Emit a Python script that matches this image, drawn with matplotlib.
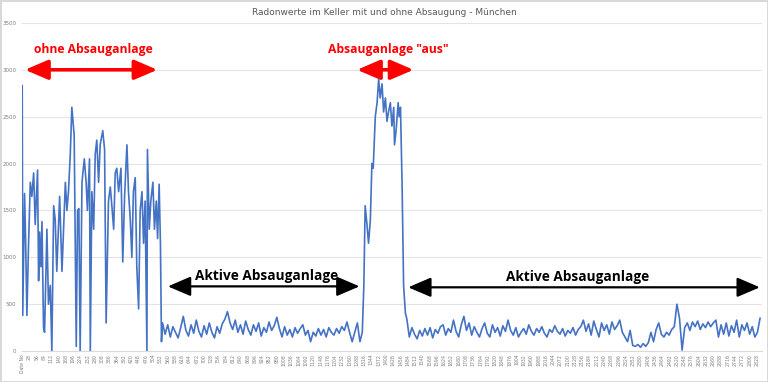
import numpy as np
import matplotlib.pyplot as plt
from matplotlib.patches import FancyArrowPatch

# Phase 1: ohne Absauganlage (Tag, Radon Bq/m3)
tage_ohne = [0, 2, 9, 13, 18, 24, 31, 37, 44, 50, 59, 63, 67, 72, 76, 82, 86, 95, 101, 108,
             114, 121, 127, 133, 144, 153, 166, 172, 178, 185, 191, 200, 208, 213, 218, 223,
             230, 239, 246, 251, 259, 262, 268, 275, 281, 287, 294, 300, 310, 317, 323, 332,
             339, 345, 352, 358, 364, 371, 380, 387, 394, 403, 409, 416, 422, 428, 435, 441,
             448, 454, 461, 467, 473, 480, 482, 489, 495, 503, 509, 516, 521, 527, 532, 536]
werte_ohne = [2830, 380, 1680, 1200, 380, 1100, 1800, 1650, 1900, 1350, 1930, 750, 1270, 900,
              1380, 250, 200, 1300, 500, 700, 0, 1550, 1400, 850, 1650, 850, 1800, 1500, 1700,
              2100, 2600, 2300, 50, 1500, 1520, 0, 1800, 2050, 1800, 1500, 2050, 0, 1700, 1300,
              2100, 2250, 1800, 2200, 2350, 2150, 300, 1600, 1750, 1550, 1300, 1900, 1950, 1700,
              1950, 950, 1650, 2200, 1700, 1400, 1000, 1700, 1850, 900, 450, 1500, 1700, 1150,
              1600, 0, 2150, 1300, 1600, 1800, 1300, 1600, 1200, 1780, 1150, 100]

# Phase 2: aktive Absauganlage, alle 10 Tage ab Tag 540
start_aktiv1 = 540
werte_aktiv1 = [300, 180, 280, 150, 260, 200, 140, 250, 370, 220, 160, 280, 190, 330, 210, 150,
                270, 180, 300, 200, 140, 260, 190, 290, 340, 420, 300, 230, 330, 200, 280, 180,
                320, 230, 170, 280, 210, 300, 160, 250, 200, 310, 220, 270, 360, 240, 150, 260,
                170, 230, 150, 250, 190, 240, 280, 170, 220, 100, 200, 160, 240, 170, 230, 150,
                250, 200, 170, 240, 190, 260, 220, 310, 200, 100, 200, 300, 100]

# Phase 3: Absauganlage "aus"
tage_aus = [1309, 1315, 1320, 1327, 1333, 1340, 1346, 1351, 1359, 1366, 1372, 1378, 1385, 1391,
            1398, 1404, 1410, 1417, 1423, 1430, 1433, 1439, 1447, 1451, 1456, 1462, 1468, 1475]
werte_aus = [200, 700, 1550, 1350, 1150, 1400, 2000, 1950, 2500, 2650, 2900, 2700, 2850, 2550,
             2700, 2450, 2550, 2650, 2400, 2600, 2200, 2350, 2650, 2500, 2600, 1800, 700, 400]

# Phase 4: aktive Absauganlage, alle 10 Tage ab Tag 1480
start_aktiv2 = 1480
werte_aktiv2 = [350, 150, 250, 180, 130, 220, 160, 240, 170, 250, 140, 230, 190, 260, 280, 170,
                240, 200, 330, 210, 150, 280, 370, 220, 300, 170, 260, 200, 150, 240, 300, 190,
                150, 280, 200, 250, 160, 270, 210, 330, 220, 170, 250, 150, 200, 240, 180, 280,
                210, 170, 240, 200, 260, 190, 150, 230, 200, 270, 210, 180, 240, 160, 220, 190,
                250, 170, 230, 260, 330, 210, 290, 170, 320, 230, 150, 300, 220, 280, 180, 310,
                230, 270, 330, 200, 150, 100, 220, 60, 50, 70, 40, 80, 50, 90, 200, 100, 230,
                300, 180, 150, 200, 170, 230, 260, 500, 350, 10, 250, 300, 220, 310, 260, 320,
                230, 290, 250, 310, 260, 300, 330, 150, 280, 180, 300, 160, 270, 200, 330, 150,
                280, 220, 300, 180, 260, 150, 200, 350]

tage = (tage_ohne
        + list(range(start_aktiv1, start_aktiv1 + 10 * len(werte_aktiv1), 10))
        + tage_aus
        + list(range(start_aktiv2, start_aktiv2 + 10 * len(werte_aktiv2), 10)))
werte = werte_ohne + werte_aktiv1 + werte_aus + werte_aktiv2

tick_pos = list(range(0, 2829, 28))
tick_lab = ['Date No'] + [str(t) for t in tick_pos[1:]]

fig = plt.figure(figsize=(7.68, 3.82), dpi=100)
fig.patch.set_edgecolor('#d9d9d9')
fig.patch.set_linewidth(1)
ax = fig.add_axes([0.0286, 0.081, 0.9634, 0.859])

ax.plot(tage, werte, color='#4472C4', lw=1.2)
ax.set_xlim(-1, 2847)
ax.set_ylim(0, 3500)
ax.set_yticks(range(0, 3501, 500))
ax.set_xticks(tick_pos)
ax.set_xticklabels(tick_lab, rotation=90, fontsize=3.3, color='#7f7f7f')
ax.tick_params(axis='y', labelsize=4, colors='#7f7f7f', length=0, pad=4)
ax.tick_params(axis='x', length=0, pad=2)
ax.grid(axis='y', color='#e3e3e3', lw=0.8)
ax.set_axisbelow(True)
for s in ['top', 'right', 'left']:
    ax.spines[s].set_visible(False)
ax.spines['bottom'].set_color('#d9d9d9')

fig.text(0.5, 0.968, 'Radonwerte im Keller mit und ohne Absaugung - München',
         ha='center', va='center', fontsize=6.5, color='#595959')


def pfeil(x0, x1, y, farbe, lw, kopf):
    ax.add_patch(FancyArrowPatch((x0, y), (x1, y),
                                 arrowstyle='<|-|>,head_length=%s,head_width=%s' % kopf,
                                 mutation_scale=10, color=farbe, lw=lw, clip_on=False))


rot = '#ff0000'
pfeil(0, 531, 3000, rot, 2.6, (1.4, 0.6))
pfeil(1278, 1517, 3000, rot, 2.6, (1.4, 0.6))
pfeil(550, 1309, 690, 'black', 1.6, (1.4, 0.6))
pfeil(1475, 2850, 680, 'black', 1.6, (1.4, 0.6))

ax.text(273, 3215, 'ohne Absauganlage', color=rot, fontsize=8.7, fontweight='bold',
        ha='center', va='center', family='Open Sans')
ax.text(1409, 3215, 'Absauganlage "aus"', color=rot, fontsize=8.7, fontweight='bold',
        ha='center', va='center', family='Open Sans')
ax.text(940, 800, 'Aktive Absauganlage', color='black', fontsize=9.8, fontweight='bold',
        ha='center', va='center', family='Open Sans')
ax.text(2137, 785, 'Aktive Absauganlage', color='black', fontsize=9.8, fontweight='bold',
        ha='center', va='center', family='Open Sans')

fig.savefig('out.png', dpi=100)
